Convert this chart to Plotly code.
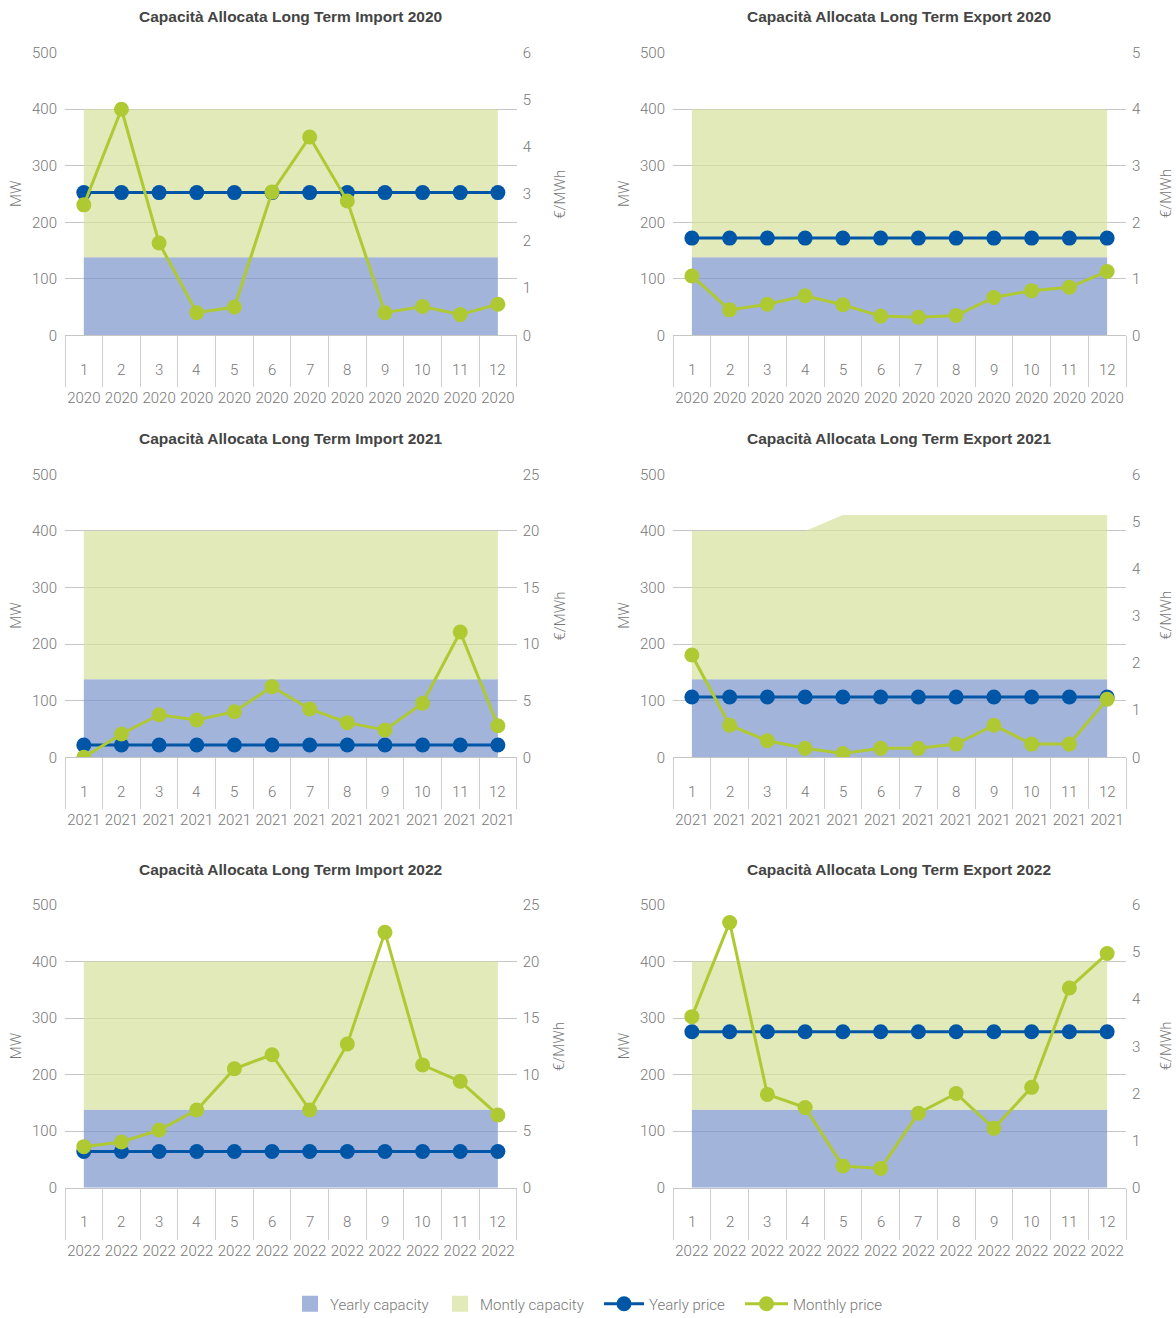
import plotly.graph_objects as go

W, H = 1176, 1318

months = ["1", "2", "3", "4", "5", "6", "7", "8", "9", "10", "11", "12"]

chart_titles = [
    "Capacità Allocata Long Term Import 2020",
    "Capacità Allocata Long Term Export 2020",
    "Capacità Allocata Long Term Import 2021",
    "Capacità Allocata Long Term Export 2021",
    "Capacità Allocata Long Term Import 2022",
    "Capacità Allocata Long Term Export 2022",
]
chart_years = ["2020", "2020", "2021", "2021", "2022", "2022"]

# Capacity (MW): yearly block and the monthly block stacked on top of it
imp2020_yearly_cap = [138, 138, 138, 138, 138, 138, 138, 138, 138, 138, 138, 138]
imp2020_monthly_cap = [262, 262, 262, 262, 262, 262, 262, 262, 262, 262, 262, 262]
exp2020_yearly_cap = [138, 138, 138, 138, 138, 138, 138, 138, 138, 138, 138, 138]
exp2020_monthly_cap = [262, 262, 262, 262, 262, 262, 262, 262, 262, 262, 262, 262]
imp2021_yearly_cap = [138, 138, 138, 138, 138, 138, 138, 138, 138, 138, 138, 138]
imp2021_monthly_cap = [262, 262, 262, 262, 262, 262, 262, 262, 262, 262, 262, 262]
exp2021_yearly_cap = [138, 138, 138, 138, 138, 138, 138, 138, 138, 138, 138, 138]
exp2021_monthly_cap = [262, 262, 262, 262, 290, 290, 290, 290, 290, 290, 290, 290]
imp2022_yearly_cap = [138, 138, 138, 138, 138, 138, 138, 138, 138, 138, 138, 138]
imp2022_monthly_cap = [262, 262, 262, 262, 262, 262, 262, 262, 262, 262, 262, 262]
exp2022_yearly_cap = [138, 138, 138, 138, 138, 138, 138, 138, 138, 138, 138, 138]
exp2022_monthly_cap = [262, 262, 262, 262, 262, 262, 262, 262, 262, 262, 262, 262]

# Prices (EUR/MWh)
imp2020_yearly_price = [3.03, 3.03, 3.03, 3.03, 3.03, 3.03, 3.03, 3.03, 3.03, 3.03, 3.03, 3.03]
imp2020_monthly_price = [2.77, 4.80, 1.96, 0.48, 0.60, 3.04, 4.21, 2.85, 0.48, 0.61, 0.44, 0.66]
exp2020_yearly_price = [1.72, 1.72, 1.72, 1.72, 1.72, 1.72, 1.72, 1.72, 1.72, 1.72, 1.72, 1.72]
exp2020_monthly_price = [1.05, 0.45, 0.55, 0.70, 0.54, 0.34, 0.32, 0.35, 0.67, 0.79, 0.85, 1.13]
imp2021_yearly_price = [1.09, 1.09, 1.09, 1.09, 1.09, 1.09, 1.09, 1.09, 1.09, 1.09, 1.09, 1.09]
imp2021_monthly_price = [0.0, 2.06, 3.76, 3.30, 4.03, 6.24, 4.27, 3.06, 2.41, 4.77, 11.07, 2.79]
exp2021_yearly_price = [1.28, 1.28, 1.28, 1.28, 1.28, 1.28, 1.28, 1.28, 1.28, 1.28, 1.28, 1.28]
exp2021_monthly_price = [2.17, 0.68, 0.35, 0.19, 0.08, 0.19, 0.19, 0.28, 0.68, 0.28, 0.28, 1.23]
imp2022_yearly_price = [3.2, 3.2, 3.2, 3.2, 3.2, 3.2, 3.2, 3.2, 3.2, 3.2, 3.2, 3.2]
imp2022_monthly_price = [3.63, 4.04, 5.10, 6.87, 10.52, 11.76, 6.87, 12.71, 22.58, 10.85, 9.41, 6.43]
exp2022_yearly_price = [3.31, 3.31, 3.31, 3.31, 3.31, 3.31, 3.31, 3.31, 3.31, 3.31, 3.31, 3.31]
exp2022_monthly_price = [3.63, 5.63, 1.98, 1.70, 0.46, 0.41, 1.58, 2.00, 1.26, 2.13, 4.24, 4.97]

yearly_caps = [imp2020_yearly_cap, exp2020_yearly_cap, imp2021_yearly_cap,
               exp2021_yearly_cap, imp2022_yearly_cap, exp2022_yearly_cap]
monthly_caps = [imp2020_monthly_cap, exp2020_monthly_cap, imp2021_monthly_cap,
                exp2021_monthly_cap, imp2022_monthly_cap, exp2022_monthly_cap]
yearly_prices = [imp2020_yearly_price, exp2020_yearly_price, imp2021_yearly_price,
                 exp2021_yearly_price, imp2022_yearly_price, exp2022_yearly_price]
monthly_prices = [imp2020_monthly_price, exp2020_monthly_price, imp2021_monthly_price,
                  exp2021_monthly_price, imp2022_monthly_price, exp2022_monthly_price]

right_axis_max = [6, 5, 25, 6, 25, 6]
right_axis_dtick = [1, 1, 5, 1, 5, 1]

# styles
FONT = "Roboto, 'Liberation Sans', Arial, sans-serif"
TXT = "#777777"
TITLE_C = "#444444"
GRID = "#c6c6c6"
BLUE_FILL = "rgba(124,148,204,0.7)"
GREEN_FILL = "rgba(212,225,154,0.7)"
BLUE_LEGEND = "#a3b4db"
GREEN_LEGEND = "#e1eab8"
YP = "#0056a6"
MP = "#afc933"

col_x = [(65, 516.7), (673, 1126)]
row_y = [(52.7, 335.3), (474.3, 757.3), (905, 1187.7)]
title_y = [17, 438, 869]

# one legend box per entry, so each entry can sit where the reference has it
legend_left_px = [290, 440, 599, 740]
legend_itemwidth = [30, 30, 40, 43]


def ax_id(letter, n):
    return letter if n == 1 else f"{letter}{n}"


def ax_key(letter, n):
    return f"{letter}axis" if n == 1 else f"{letter}axis{n}"


def legend_name(i):
    return "legend" if i == 0 else f"legend{i+1}"


fig = go.Figure()
layout = dict(
    width=W, height=H, margin=dict(l=0, r=0, t=0, b=0, autoexpand=False), autosize=False,
    paper_bgcolor="white", plot_bgcolor="white",
    font=dict(family=FONT, size=15, color=TXT, weight=300),
    showlegend=True,
)
for i in range(4):
    layout[legend_name(i)] = dict(
        orientation="h", x=legend_left_px[i] / W, xanchor="left", y=1 - 1304 / H,
        yanchor="middle", itemwidth=legend_itemwidth[i],
        font=dict(family=FONT, size=15, color=TXT, weight=300),
        bgcolor="rgba(0,0,0,0)",
    )
annotations = []

for k in range(6):
    r, c = divmod(k, 2)
    xa = ax_id("x", k + 1)
    ya = ax_id("y", 2 * k + 1)
    yb = ax_id("y", 2 * k + 2)
    x0, x1 = col_x[c]
    top, bot = row_y[r]
    layout[ax_key("x", k + 1)] = dict(
        domain=[x0 / W, x1 / W], anchor=ya, type="category",
        categoryorder="array", categoryarray=months, range=[-0.5, 11.5],
        tickmode="array", tickvals=months, ticktext=[chart_years[k]] * 12,
        ticks="outside", tickson="boundaries", ticklen=51, tickcolor="#cfcfcf", tickwidth=1,
        ticklabelstandoff=49,
        showline=True, linecolor="#c6c6c6", linewidth=1, showgrid=False, zeroline=False,
        tickangle=0, tickfont=dict(size=15, color=TXT), fixedrange=True,
    )
    layout[ax_key("y", 2 * k + 1)] = dict(
        domain=[1 - bot / H, 1 - top / H], anchor=xa, range=[0, 500], dtick=100,
        showgrid=True, gridcolor=GRID, gridwidth=1, zeroline=False, showline=False,
        ticks="outside", ticklen=4, tickcolor="rgba(0,0,0,0)",
        tickfont=dict(size=15, color=TXT), fixedrange=True,
    )
    layout[ax_key("y", 2 * k + 2)] = dict(
        overlaying=ya, anchor=xa, side="right", range=[0, right_axis_max[k]],
        dtick=right_axis_dtick[k], showgrid=False, zeroline=False, showline=False,
        ticks="outside", ticklen=2, tickcolor="rgba(0,0,0,0)",
        tickfont=dict(size=15, color=TXT), fixedrange=True,
    )

    fig.add_trace(go.Scatter(x=months, y=yearly_caps[k], xaxis=xa, yaxis=ya,
                             stackgroup=f"cap{k}", mode="none", fillcolor=BLUE_FILL,
                             name="Yearly capacity", showlegend=False, hoverinfo="skip"))
    fig.add_trace(go.Scatter(x=months, y=monthly_caps[k], xaxis=xa, yaxis=ya,
                             stackgroup=f"cap{k}", mode="none", fillcolor=GREEN_FILL,
                             name="Montly capacity", showlegend=False, hoverinfo="skip"))
    fig.add_trace(go.Scatter(x=months, y=yearly_prices[k], xaxis=xa, yaxis=yb,
                             mode="lines+markers", line=dict(color=YP, width=3),
                             marker=dict(color=YP, size=15), name="Yearly price",
                             showlegend=(k == 0), legend=legend_name(2)))
    fig.add_trace(go.Scatter(x=months, y=monthly_prices[k], xaxis=xa, yaxis=yb,
                             mode="lines+markers", line=dict(color=MP, width=3),
                             marker=dict(color=MP, size=15), name="Monthly price",
                             showlegend=(k == 0), legend=legend_name(3)))

    # chart title
    annotations.append(dict(xref="paper", yref="paper", x=(x0 + x1) / 2 / W, y=1 - title_y[r] / H,
                            text=f"<b>{chart_titles[k]}</b>", showarrow=False,
                            xanchor="center", yanchor="middle",
                            font=dict(family="'Liberation Sans', Arial, sans-serif", size=15.5,
                                      color=TITLE_C)))
    # axis titles
    ymid = 1 - (top + bot) / 2 / H
    annotations.append(dict(xref="paper", yref="paper", x=(x0 - 49) / W, y=ymid, text="MW",
                            textangle=-90, showarrow=False, xanchor="center", yanchor="middle",
                            font=dict(size=15, color=TXT)))
    annotations.append(dict(xref="paper", yref="paper", x=min(x1 + 43, 1166) / W, y=ymid,
                            text="€/MWh", textangle=-90, showarrow=False,
                            xanchor="center", yanchor="middle",
                            font=dict(size=15, color=TXT)))
    # month numbers inside the category boxes (positioned by category index)
    for i, m in enumerate(months):
        annotations.append(dict(xref=xa, yref=f"{ya} domain", x=i, y=-34.7 / (bot - top),
                                text=m, showarrow=False, xanchor="center", yanchor="middle",
                                font=dict(size=15, color=TXT)))

# legend-only swatches for the capacity areas
fig.add_trace(go.Scatter(x=[None], y=[None], xaxis="x", yaxis="y", mode="markers",
                         marker=dict(symbol="square", size=18, color=BLUE_LEGEND),
                         name="Yearly capacity", legend=legend_name(0)))
fig.add_trace(go.Scatter(x=[None], y=[None], xaxis="x", yaxis="y", mode="markers",
                         marker=dict(symbol="square", size=18, color=GREEN_LEGEND),
                         name="Montly capacity", legend=legend_name(1)))

layout["annotations"] = annotations
fig.update_layout(**layout)
fig.write_html("out.html")
